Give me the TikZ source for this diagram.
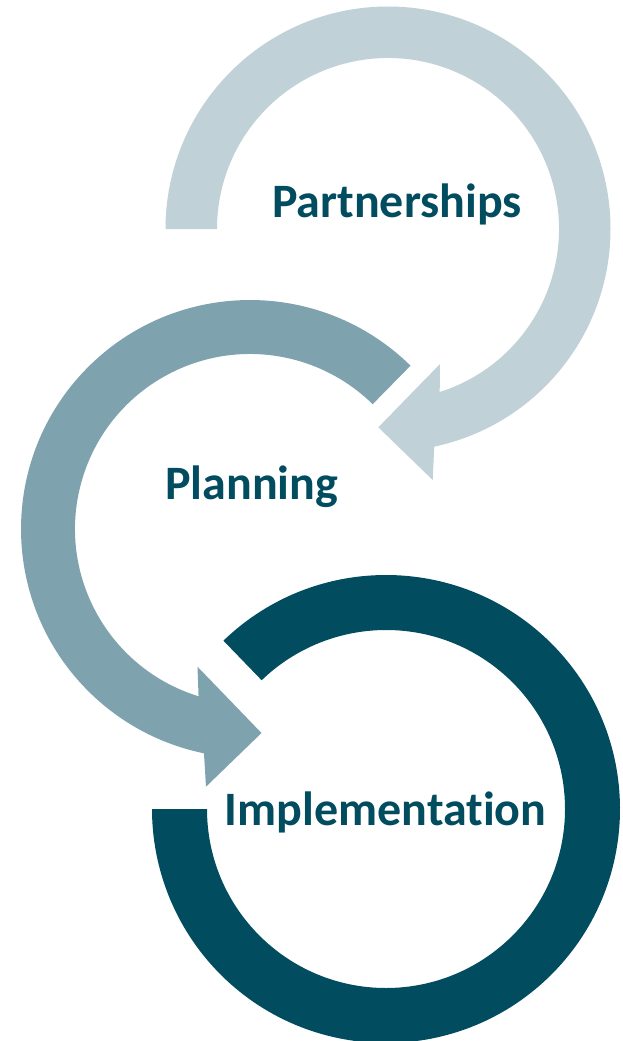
\documentclass[tikz,border=0pt]{standalone}
\usepackage{fontspec}
\setmainfont{Carlito}[Ligatures={NoCommon,NoContextual}]
\definecolor{ringlight}{HTML}{C0D2D8}
\definecolor{ringmid}{HTML}{7FA3AE}
\definecolor{ringdark}{HTML}{024C5F}
\tikzset{
  steplabel/.style={anchor=base, text=ringdark, inner sep=0pt,
    font=\fontsize{48}{57}\selectfont\bfseries}
}
\begin{document}
\begin{tikzpicture}[x=1pt,y=-1pt]
\useasboundingbox (0,0) rectangle (623,1041);
\coordinate (c1) at (388,229);
\coordinate (c2) at (250,529);
\coordinate (c3) at (386,809);
% top arrow (Partnerships)
\fill[ringlight] ([shift={(c1)}]180:222.5) arc[start angle=180,end angle=438,radius=222.5]
  -- (432.7,480) -- (378.3,427.3) -- (440,364)
  -- ([shift={(c1)}]432.4:171) arc[start angle=432.4,end angle=180,radius=171] -- cycle;
% middle arrow (Planning)
\fill[ringmid] ([shift={(c2)}]-45.5:229) arc[start angle=-45.5,end angle=-258.4,radius=229]
  -- (206,786.7) -- (261.5,733) -- (197.5,666.7)
  -- ([shift={(c2)}]-252.9:175) arc[start angle=-252.9,end angle=-45.5,radius=175] -- cycle;
% bottom ring (Implementation)
\fill[ringdark] ([shift={(c3)}]226:234) arc[start angle=226,end angle=540,radius=234]
  -- ([shift={(c3)}]180:179) arc[start angle=540,end angle=226,radius=179] -- cycle;
\node[steplabel] (partnerships) at (397,217.3) {Partnerships};
\node[steplabel] (planning) at (251.7,499.3) {Planning};
\node[steplabel] (implementation) at (385.7,825.7) {Implementat\kern0pt ion};
\end{tikzpicture}
\end{document}
